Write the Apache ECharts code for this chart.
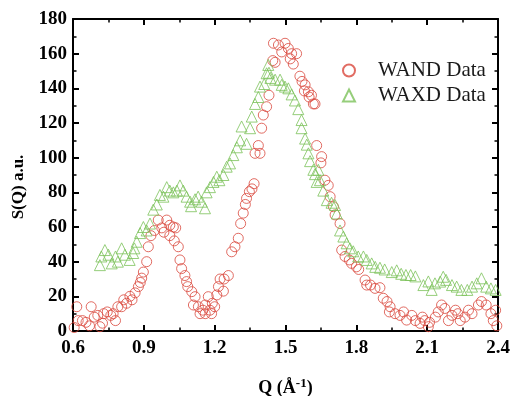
<!DOCTYPE html>
<html><head><meta charset="utf-8">
<script src="https://cdn.jsdelivr.net/npm/echarts@6/dist/echarts.min.js"></script>
<style>html,body{margin:0;padding:0;background:#fff}#c{width:512px;height:396px}</style>
</head><body><div id="c"></div>
<script>
const xTicks = [0.6, 0.9, 1.2, 1.5, 1.8, 2.1, 2.4];
const yTicks = [0, 20, 40, 60, 80, 100, 120, 140, 160, 180];
const seriesNames = ['WAND Data', 'WAXD Data'];
const wandQ = [0.605,0.616,0.622,0.64,0.655,0.67,0.677,0.69,0.705,0.714,0.725,0.73,0.745,0.76,0.77,0.78,0.79,0.806,0.815,0.827,0.841,0.85,0.863,0.877,0.885,0.891,0.898,0.912,0.919,0.93,0.945,0.961,0.976,0.985,0.997,1.01,1.01,1.025,1.029,1.035,1.046,1.053,1.06,1.074,1.081,1.086,1.103,1.11,1.117,1.131,1.138,1.15,1.16,1.16,1.173,1.18,1.187,1.19,1.2,1.209,1.216,1.223,1.237,1.24,1.258,1.272,1.286,1.3,1.31,1.321,1.33,1.335,1.347,1.358,1.367,1.371,1.385,1.392,1.399,1.406,1.42,1.43,1.446,1.449,1.456,1.47,1.484,1.498,1.512,1.52,1.526,1.533,1.547,1.561,1.57,1.58,1.583,1.597,1.6,1.61,1.618,1.625,1.632,1.65,1.653,1.667,1.681,1.689,1.703,1.71,1.731,1.738,1.752,1.77,1.78,1.8,1.81,1.837,1.844,1.86,1.879,1.9,1.914,1.93,1.94,1.943,1.964,1.985,2.0,2.013,2.035,2.05,2.07,2.08,2.09,2.105,2.11,2.135,2.147,2.161,2.175,2.19,2.205,2.22,2.23,2.24,2.26,2.275,2.29,2.317,2.33,2.35,2.37,2.38,2.39,2.395];
const wandS = [2,14,6,6,5,3,14,8,9,2.5,4.5,10,11,9,10,6,14,14,18,16,20,18,22,25.6,28,30.5,34,40,48.6,55,58,64,59.5,57,64,61,55,60,52,59.5,48.6,41,36,32,28.5,25.6,22.7,15,19.8,14,10,12,10,15,19.8,12,10,16,14,20.8,25.6,30,23,30,32,45.7,48.6,53.5,62,68,73,76.5,80.4,82,85,102.5,107,102.5,117,124.6,129.4,136,156,166,155,165,161,166,163,157,160,154,160,147,144,138.5,142,138,135,136,131,131,107,97,100.6,87,84,77.5,71.7,67,62,46.7,43,41,39,37,35.5,29.4,26.5,26.5,24.6,25,18.9,17,11,14,10,9,11,6.3,9,6,4.4,8,6,2.5,5,8,11,15,13,6,9,12,10,6,8,12,10,15,17,15,10,6,12,3];
const waxdQ = [0.714,0.72,0.735,0.75,0.764,0.78,0.79,0.806,0.82,0.84,0.855,0.86,0.87,0.884,0.898,0.912,0.926,0.94,0.955,0.968,0.983,0.997,1.01,1.025,1.04,1.053,1.067,1.081,1.096,1.10,1.117,1.13,1.145,1.159,1.166,1.18,1.195,1.209,1.22,1.237,1.251,1.265,1.279,1.294,1.308,1.314,1.335,1.35,1.357,1.371,1.385,1.392,1.41,1.42,1.427,1.43,1.436,1.456,1.477,1.484,1.498,1.512,1.526,1.54,1.554,1.568,1.568,1.583,1.59,1.597,1.604,1.618,1.625,1.632,1.639,1.646,1.66,1.675,1.695,1.71,1.717,1.731,1.745,1.759,1.773,1.787,1.808,1.83,1.844,1.865,1.88,1.90,1.92,1.95,1.971,1.99,2.01,2.03,2.05,2.084,2.105,2.119,2.133,2.155,2.168,2.18,2.205,2.225,2.245,2.27,2.29,2.31,2.33,2.35,2.37,2.39];
const waxdS = [38,43,46.7,44,39,43,40,47.7,44,41,45,47.7,51.5,56.5,60,58,62,70,73,78.5,77.5,83,81,80,81,84,81,77.5,74.6,72,76,77.5,74.6,70.8,80,83,86,89,87,90,94.8,96.7,101.5,106,110,118,108,117,123.7,131,135,141,142.5,148.7,153.5,149,146,145,145,142,141,140,136.5,133,128,121.7,117,111,107.5,102.5,98,93,90.5,86,93,87,81,75.5,74,72.7,67.8,58,54.5,50.6,47.7,46,43,43,41,39,37,36.5,35.5,34,35,33,32.3,32.3,31.5,26.5,28.6,23.7,27.5,28.5,31.3,29.5,26.5,25.6,23.7,23.7,25.6,27.5,30.4,25.6,24.6,23.7];

const zip = (a, b) => a.map((v, i) => [v, b[i]]);
const font = '"Liberation Serif", "Times New Roman", serif';
const axisCommon = {
  axisLine: {show: true, onZero: false, lineStyle: {color: '#000', width: 2}},
  axisTick: {show: true, inside: true, length: 6, lineStyle: {color: '#000', width: 2}},
  minorTick: {show: true, splitNumber: 2, length: 3.5, lineStyle: {color: '#000', width: 1.5}},
  splitLine: {show: false}
};
const chart = echarts.init(document.getElementById('c'));
chart.setOption({
  animation: false,
  grid: {left: 73, right: 14, top: 19, bottom: 65, containLabel: false, outerBoundsMode: 'none'},
  legend: {
    data: [{name: seriesNames[0], icon: 'circle'}, {name: seriesNames[1], icon: 'triangle'}],
    orient: 'vertical', left: 337, top: 55, itemGap: 4, itemWidth: 12, itemHeight: 12,
    textStyle: {fontFamily: font, fontSize: 21, color: '#1a1a1a', padding: [0, 0, 0, 18]},
    inactiveColor: '#ccc'
  },
  xAxis: [
    Object.assign({}, axisCommon, {
      type: 'value', min: 0.6, max: 2.4, interval: 0.3, position: 'bottom',
      axisLabel: {fontFamily: font, fontWeight: 'bold', fontSize: 19, color: '#000', margin: 8,
        formatter: v => { const t = xTicks.find(x => Math.abs(x - v) < 1e-6); return t !== undefined ? t.toFixed(1) : ''; }},
      name: '{a|Q (Å}{b|-1}{a|)}', nameLocation: 'middle', nameGap: 46,
      nameTextStyle: {rich: {
        a: {fontFamily: font, fontWeight: 'bold', fontSize: 18, color: '#000'},
        b: {fontFamily: font, fontWeight: 'bold', fontSize: 13, color: '#000', verticalAlign: 'top', padding: [0, 0, 9, 0]}
      }}
    }),
    Object.assign({}, axisCommon, {
      type: 'value', min: 0.6, max: 2.4, interval: 0.3, position: 'top', axisLabel: {show: false}
    })
  ],
  yAxis: [
    Object.assign({}, axisCommon, {
      type: 'value', min: 0, max: 180, interval: 20, position: 'left',
      axisLabel: {fontFamily: font, fontWeight: 'bold', fontSize: 19, color: '#000', margin: 6,
        formatter: v => yTicks.includes(v) ? String(v) : ''},
      name: 'S(Q) a.u.', nameLocation: 'middle', nameGap: 45, nameRotate: 90,
      nameTextStyle: {fontFamily: font, fontWeight: 'bold', fontSize: 17, color: '#000', padding: [0, 24, 0, 0]}
    }),
    Object.assign({}, axisCommon, {
      type: 'value', min: 0, max: 180, interval: 20, position: 'right', axisLabel: {show: false}
    })
  ],
  series: [
    {name: seriesNames[0], type: 'scatter', symbol: 'circle', symbolSize: 10,
      itemStyle: {color: 'transparent', borderColor: '#d9473c', borderWidth: 1},
      data: zip(wandQ, wandS)},
    {name: seriesNames[1], type: 'scatter', symbol: 'triangle', symbolSize: 11,
      itemStyle: {color: 'transparent', borderColor: '#7cc25a', borderWidth: 1},
      data: zip(waxdQ, waxdS)}
  ]
});
</script></body></html>
